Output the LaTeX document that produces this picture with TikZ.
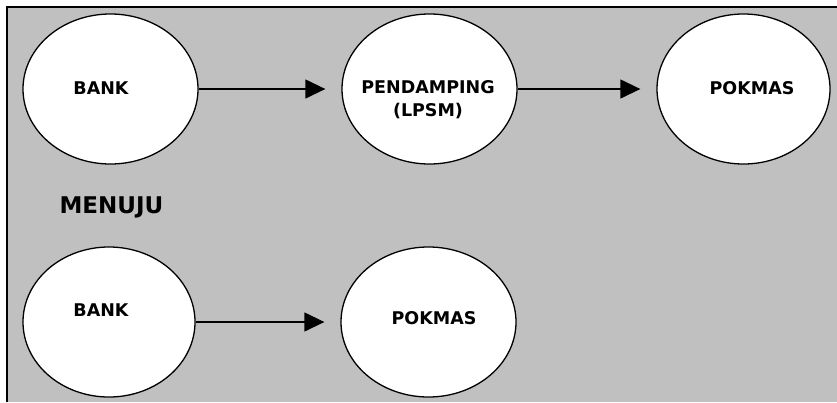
\documentclass[tikz,border=0pt]{standalone}
\usepackage{fontspec}
\setmainfont{DejaVu Sans}
\usetikzlibrary{shapes.geometric,arrows.meta}
\definecolor{panelgray}{HTML}{C0C0C0}
\tikzstyle{bubble}=[
        draw=black,
        line width=1.3pt,
        fill=white,
        ellipse,
        inner sep=0pt,
        minimum width=175pt,
        minimum height=150pt
]
\tikzstyle{word}=[
        font=\bfseries\fontsize{17.5}{23}\selectfont,
        align=center
]
\tikzstyle{flow}=[
        line width=1.3pt,
        -{Triangle[length=20pt,width=19pt]},
        shorten >=16pt
]

\begin{document}
\begin{tikzpicture}[x=1pt,y=-1pt]
                        \useasboundingbox (0,0) rectangle (837,402);
                        \fill[panelgray] (7,7) rectangle (837,402);
                        \draw[line width=2pt] (7,402) -- (7,7) -- (837,7);

                        \node[bubble, label={[word,xshift=-9.5pt,yshift=1pt]center:BANK}] (bankA) at (110.5,89) {};
                        \node[bubble, label={[word,xshift=-1.5pt,yshift=-10.5pt]center:PENDAMPING\\(LPSM)}] (lpsm) at (429.5,89) {};
                        \node[bubble, minimum width=173pt, label={[word,xshift=8.5pt,yshift=1pt]center:POKMAS}] (pokmasA) at (743.5,89) {};

                        \node[word, font=\bfseries\fontsize{23}{28}\selectfont, anchor=west] (menuju) at (56,207) {MENUJU};

                        \node[bubble, minimum width=172pt, label={[word,xshift=-8pt,yshift=12pt]center:BANK}] (bankB) at (109,322) {};
                        \node[bubble, label={[word,xshift=5.5pt,yshift=4pt]center:POKMAS}] (pokmasB) at (428.5,322) {};

                        \draw[flow] (bankA.east) -- (lpsm.west);
                        \draw[flow] (lpsm.east) -- (pokmasA.west);
                        \draw[flow] (bankB.east) -- (pokmasB.west);
\end{tikzpicture}
\end{document}
